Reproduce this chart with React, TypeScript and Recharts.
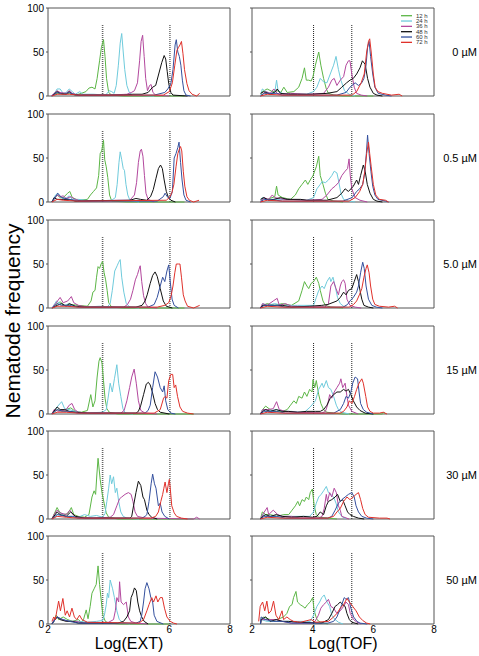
import React from 'react';
import { LineChart, Line, XAxis, YAxis, ReferenceLine, ReferenceArea } from 'recharts';

type Pt = [number, number];

const hours = ['12 h', '24 h', '36 h', '48 h', '60 h', '72 h'];
const colors = ['#5cb646', '#6fcbdc', '#b3489e', '#111111', '#34509e', '#e0312b'];
const concentrations = ['0 µM', '0.5 µM', '5.0 µM', '15 µM', '30 µM', '50 µM'];
const extCuts = [3.8, 6.02];
const tofCuts = [4.03, 5.29];
const yTicks = [0, 50, 100];
const extTicks = [2, 6, 8];
const tofTicks = [2, 4, 6, 8];

// ---------- Log(EXT) panels ----------
const ext0: Pt[][] = [
  [[2.1,0],[2.3,3],[2.5,2],[2.7,3],[2.9,1],[3.1,3],[3.25,5],[3.35,9],[3.45,10],[3.55,8],[3.62,20],[3.7,40],[3.76,55],[3.83,64],[3.88,45],[3.93,20],[4.0,4],[4.1,1],[4.5,0],[6.5,0]],
  [[2.1,0],[2.2,2],[2.3,8],[2.4,8],[2.5,3],[2.6,4],[2.7,8],[2.8,5],[2.9,2],[3.05,5],[3.15,2],[3.5,2],[3.9,1],[4.02,6],[4.1,5],[4.18,3],[4.25,12],[4.32,35],[4.38,60],[4.43,71],[4.48,50],[4.53,30],[4.6,12],[4.68,4],[4.8,1],[5.5,0]],
  [[2.1,0],[2.3,6],[2.4,4],[2.6,3],[2.7,6],[2.8,3],[3.0,1],[4.0,1],[4.6,2],[4.75,4],[4.85,6],[4.95,15],[5.02,40],[5.07,62],[5.12,69],[5.17,45],[5.22,20],[5.28,6],[5.35,12],[5.4,13],[5.46,4],[5.55,1],[6.0,0]],
  [[2.13,0],[2.3,5],[2.4,3],[2.6,2],[2.7,5],[2.8,2],[3.0,1],[4.5,1],[4.8,2],[5.1,2],[5.3,4],[5.45,10],[5.55,12],[5.65,25],[5.75,38],[5.83,46],[5.88,42],[5.93,28],[5.98,14],[6.05,4],[6.12,1],[6.6,0]],
  [[2.13,0],[2.3,4],[2.5,2],[2.7,4],[2.9,1],[5.5,1],[5.85,4],[5.95,8],[6.05,14],[6.12,30],[6.19,58],[6.23,64],[6.28,50],[6.33,45],[6.38,35],[6.43,18],[6.48,6],[6.55,1],[6.7,0]],
  [[2.13,0],[2.3,2],[2.7,2],[3.0,1],[5.8,1],[6.0,5],[6.1,15],[6.18,35],[6.25,52],[6.3,55],[6.35,58],[6.4,62],[6.45,48],[6.5,30],[6.58,14],[6.65,6],[6.75,2],[6.9,0],[7.0,3]],
];

const ext05: Pt[][] = [
  [[2.13,0],[2.3,8],[2.4,5],[2.5,5],[2.65,10],[2.72,12],[2.8,5],[3.0,2],[3.3,3],[3.4,8],[3.5,12],[3.6,16],[3.67,30],[3.72,55],[3.77,58],[3.83,70],[3.87,48],[3.92,40],[3.97,28],[4.03,8],[4.1,1],[4.6,0],[6.5,0]],
  [[2.13,0],[2.25,8],[2.32,10],[2.4,6],[2.55,3],[2.7,7],[2.8,3],[3.0,3],[3.5,1],[4.1,2],[4.22,5],[4.28,20],[4.34,45],[4.38,57],[4.43,48],[4.48,38],[4.52,36],[4.57,20],[4.63,8],[4.7,2],[5.0,0]],
  [[2.13,0],[2.3,8],[2.4,6],[2.5,7],[2.6,4],[2.75,6],[2.9,3],[3.1,1],[4.3,2],[4.7,2],[4.85,8],[4.92,22],[4.98,45],[5.04,58],[5.08,60],[5.13,52],[5.18,30],[5.23,10],[5.3,3],[5.5,0]],
  [[2.13,0],[2.2,5],[2.3,3],[2.5,3],[2.7,3],[2.9,1],[4.7,2],[4.9,4],[5.05,3],[5.25,2],[5.38,6],[5.47,14],[5.56,27],[5.64,38],[5.71,42],[5.77,38],[5.83,25],[5.9,12],[5.97,5],[6.05,2],[6.2,0]],
  [[2.13,0],[2.25,6],[2.32,10],[2.45,5],[2.7,3],[3.0,1],[5.6,1],[5.8,6],[5.86,10],[5.93,6],[6.02,4],[6.1,12],[6.16,50],[6.22,55],[6.28,62],[6.32,68],[6.37,45],[6.42,25],[6.48,8],[6.55,2],[6.7,0]],
  [[2.13,0],[2.3,3],[2.5,2],[3.0,1],[5.9,2],[6.0,5],[6.08,10],[6.15,20],[6.22,40],[6.28,55],[6.33,60],[6.37,63],[6.41,58],[6.46,35],[6.51,18],[6.58,6],[6.66,2],[6.8,0],[6.98,2]],
];

const ext5: Pt[][] = [
  [[2.13,0],[2.3,5],[2.4,7],[2.55,3],[2.75,4],[3.0,3],[3.3,2],[3.42,8],[3.48,18],[3.55,20],[3.6,35],[3.65,47],[3.7,45],[3.75,50],[3.8,53],[3.85,40],[3.9,32],[3.95,20],[4.0,6],[4.1,1],[4.5,0],[6.5,0]],
  [[2.13,0],[2.28,8],[2.4,5],[2.55,3],[2.7,5],[2.9,2],[3.2,1],[3.7,2],[3.95,1],[4.05,5],[4.12,20],[4.2,42],[4.28,48],[4.33,52],[4.38,55],[4.43,35],[4.5,18],[4.58,5],[4.7,1],[5.0,0]],
  [[2.13,0],[2.25,5],[2.4,12],[2.5,6],[2.65,8],[2.77,13],[2.85,6],[3.0,3],[3.3,1],[4.5,1],[4.62,4],[4.72,10],[4.8,20],[4.88,32],[4.95,38],[5.0,44],[5.04,48],[5.09,30],[5.15,14],[5.22,5],[5.3,1],[5.6,0]],
  [[2.13,0],[2.3,3],[2.45,5],[2.6,2],[2.7,5],[2.9,2],[3.2,1],[4.9,1],[5.1,3],[5.2,8],[5.27,15],[5.37,28],[5.45,37],[5.53,41],[5.6,36],[5.7,22],[5.8,8],[5.9,2],[6.1,0]],
  [[2.13,0],[2.3,5],[2.45,3],[2.7,3],[3.0,1],[5.3,1],[5.5,4],[5.6,12],[5.7,25],[5.78,35],[5.85,30],[5.92,42],[5.98,49],[6.03,30],[6.09,10],[6.16,3],[6.3,0]],
  [[2.13,0],[2.3,2],[2.6,2],[3.0,1],[5.6,1],[5.85,3],[5.98,6],[6.06,14],[6.12,25],[6.18,40],[6.23,50],[6.3,50],[6.35,50],[6.4,35],[6.46,15],[6.52,8],[6.6,2],[6.8,0],[7.0,3]],
];

const ext15: Pt[][] = [
  [[2.13,0],[2.3,5],[2.45,3],[2.6,5],[2.75,7],[2.9,3],[3.1,2],[3.3,4],[3.41,22],[3.48,8],[3.55,15],[3.62,42],[3.68,60],[3.72,64],[3.78,58],[3.83,38],[3.88,18],[3.94,6],[4.02,2],[4.3,0],[6.8,0]],
  [[2.13,0],[2.3,8],[2.45,14],[2.55,6],[2.7,5],[2.9,3],[3.2,1],[3.8,2],[3.92,5],[3.98,18],[4.05,35],[4.12,25],[4.19,40],[4.27,56],[4.33,35],[4.4,20],[4.47,6],[4.55,1],[4.8,0]],
  [[2.13,0],[2.2,5],[2.35,3],[2.6,5],[2.7,10],[2.79,12],[2.88,5],[3.0,2],[3.4,1],[4.4,1],[4.51,4],[4.6,15],[4.69,30],[4.76,42],[4.84,51],[4.91,35],[4.98,15],[5.06,4],[5.2,1],[5.6,0]],
  [[2.13,0],[2.3,8],[2.4,5],[2.55,5],[2.7,3],[2.9,2],[3.3,1],[4.9,1],[4.98,3],[5.06,10],[5.15,22],[5.24,34],[5.31,36],[5.37,33],[5.44,25],[5.53,12],[5.61,5],[5.7,2],[6.0,0]],
  [[2.13,0],[2.3,5],[2.5,3],[2.7,3],[3.0,1],[5.2,1],[5.3,4],[5.37,10],[5.45,30],[5.53,48],[5.61,42],[5.7,30],[5.78,25],[5.83,32],[5.88,15],[5.95,5],[6.05,1],[6.2,0]],
  [[2.13,0],[2.3,2],[2.6,2],[3.0,1],[5.5,1],[5.6,3],[5.7,5],[5.81,18],[5.86,20],[5.92,18],[5.98,38],[6.05,45],[6.11,45],[6.16,30],[6.21,33],[6.27,20],[6.35,8],[6.44,3],[6.6,1],[6.8,0]],
];

const ext30: Pt[][] = [
  [[2.13,0],[2.3,13],[2.38,8],[2.5,5],[2.65,6],[2.77,13],[2.85,5],[3.0,3],[3.2,2],[3.35,5],[3.45,25],[3.52,32],[3.57,28],[3.61,50],[3.65,69],[3.72,45],[3.78,30],[3.85,18],[3.92,7],[4.0,2],[4.3,0],[6.8,0]],
  [[2.13,0],[2.3,5],[2.45,6],[2.6,3],[2.8,3],[3.0,2],[3.2,5],[3.4,3],[3.6,4],[3.8,2],[3.88,6],[3.94,20],[4.0,35],[4.05,50],[4.1,40],[4.16,48],[4.22,30],[4.27,35],[4.33,20],[4.4,8],[4.48,3],[4.6,1],[5.0,0]],
  [[2.13,0],[2.2,5],[2.3,10],[2.4,7],[2.6,5],[2.72,10],[2.85,4],[3.0,2],[3.5,1],[4.05,2],[4.16,5],[4.27,15],[4.36,23],[4.43,25],[4.54,28],[4.65,30],[4.74,28],[4.8,20],[4.87,8],[4.95,3],[5.2,1],[6.8,0],[6.9,2],[7.0,0]],
  [[2.13,0],[2.3,8],[2.4,5],[2.6,3],[2.75,8],[2.9,3],[3.2,1],[4.7,1],[4.76,3],[4.82,15],[4.9,30],[4.98,43],[5.06,38],[5.13,25],[5.18,22],[5.26,10],[5.33,5],[5.42,2],[5.6,0]],
  [[2.13,0],[2.3,5],[2.6,3],[2.8,3],[3.0,1],[5.1,1],[5.2,3],[5.26,5],[5.33,20],[5.4,40],[5.45,51],[5.51,40],[5.56,35],[5.64,15],[5.7,18],[5.76,8],[5.85,3],[6.0,0]],
  [[2.13,0],[2.3,3],[2.6,2],[3.0,1],[5.4,1],[5.55,3],[5.64,8],[5.72,20],[5.78,28],[5.82,35],[5.86,42],[5.92,30],[5.97,40],[6.0,45],[6.03,35],[6.08,15],[6.16,7],[6.24,3],[6.4,1],[6.6,0]],
];

const ext50: Pt[][] = [
  [[2.13,0],[2.27,10],[2.35,5],[2.5,8],[2.65,5],[2.8,3],[3.0,5],[3.1,2],[3.17,5],[3.26,16],[3.32,6],[3.39,20],[3.45,35],[3.52,40],[3.59,45],[3.65,66],[3.7,45],[3.76,25],[3.81,10],[3.89,3],[4.0,1],[4.4,0],[6.0,0]],
  [[2.13,0],[2.3,8],[2.45,5],[2.6,4],[2.8,3],[3.0,3],[3.3,2],[3.6,3],[3.8,4],[3.86,10],[3.92,22],[3.96,35],[4.0,30],[4.05,50],[4.13,40],[4.19,30],[4.27,15],[4.35,5],[4.45,2],[4.7,0]],
  [[2.13,0],[2.2,5],[2.3,8],[2.45,5],[2.7,3],[2.9,3],[3.2,1],[4.0,2],[4.16,5],[4.22,15],[4.27,30],[4.33,25],[4.36,48],[4.41,25],[4.49,22],[4.58,25],[4.65,8],[4.73,3],[4.9,1],[5.3,0]],
  [[2.13,0],[2.3,8],[2.4,5],[2.6,3],[2.8,3],[3.0,1],[4.3,1],[4.49,3],[4.6,8],[4.69,15],[4.74,30],[4.8,35],[4.85,41],[4.91,38],[4.96,25],[5.02,15],[5.09,8],[5.17,3],[5.3,0]],
  [[2.13,0],[2.3,8],[2.5,5],[2.7,3],[3.0,1],[4.9,1],[5.04,3],[5.09,10],[5.15,25],[5.2,40],[5.26,47],[5.33,40],[5.39,30],[5.45,25],[5.5,10],[5.59,3],[5.8,0]],
  [[2.13,3],[2.19,8],[2.24,5],[2.35,26],[2.41,15],[2.49,29],[2.57,10],[2.63,15],[2.71,8],[2.79,18],[2.87,8],[2.95,5],[3.04,10],[3.12,5],[3.3,2],[5.0,1],[5.15,5],[5.26,15],[5.33,22],[5.42,30],[5.48,25],[5.56,32],[5.62,25],[5.7,30],[5.77,30],[5.84,18],[5.92,8],[6.03,3],[6.14,1],[6.25,0]],
];

// ---------- Log(TOF) panels ----------
const tof0: Pt[][] = [
  [[2.3,0],[2.34,5],[2.5,8],[2.67,5],[2.83,6],[2.95,4],[3.05,10],[3.16,4],[3.38,5],[3.54,10],[3.65,20],[3.73,32],[3.79,18],[3.87,18],[3.95,17],[4.01,22],[4.09,35],[4.2,50],[4.27,35],[4.36,20],[4.45,8],[4.52,3],[4.7,1],[5.0,0],[6.0,0]],
  [[2.28,0],[2.34,8],[2.45,5],[2.6,3],[2.75,4],[2.81,18],[2.86,6],[3.0,3],[3.3,2],[3.8,2],[4.03,5],[4.14,10],[4.25,20],[4.36,16],[4.47,15],[4.58,25],[4.69,35],[4.77,45],[4.85,30],[4.93,18],[5.05,6],[5.2,2],[5.4,0]],
  [[2.28,0],[2.45,5],[2.6,3],[2.72,8],[2.83,3],[3.0,2],[3.27,3],[3.8,2],[4.36,3],[4.52,10],[4.63,18],[4.71,20],[4.8,12],[4.91,18],[5.02,22],[5.1,35],[5.18,40],[5.23,40],[5.29,25],[5.37,10],[5.45,3],[5.6,1],[5.8,0]],
  [[2.28,3],[2.39,5],[2.6,2],[2.78,5],[2.83,8],[2.94,3],[3.2,2],[3.5,2],[4.0,2],[4.47,3],[4.8,5],[4.96,10],[5.12,15],[5.23,18],[5.34,20],[5.45,25],[5.56,32],[5.64,40],[5.73,36],[5.81,20],[5.89,10],[6.0,3],[6.12,1],[6.3,0]],
  [[2.28,0],[2.4,3],[2.8,3],[3.0,1],[4.8,1],[5.1,4],[5.23,10],[5.4,15],[5.51,12],[5.62,15],[5.69,20],[5.76,35],[5.81,55],[5.86,62],[5.91,45],[5.98,25],[6.05,10],[6.16,3],[6.4,1],[6.6,0]],
  [[2.28,0],[2.5,2],[3.0,1],[5.3,1],[5.45,5],[5.6,15],[5.7,25],[5.78,50],[5.84,62],[5.88,65],[5.93,50],[6.0,25],[6.06,10],[6.15,5],[6.3,3],[6.45,2],[6.6,1],[6.85,2],[6.95,0]],
];

const tof05: Pt[][] = [
  [[2.28,0],[2.35,5],[2.5,3],[2.75,6],[2.81,18],[2.86,8],[3.0,5],[3.27,3],[3.43,8],[3.54,15],[3.65,20],[3.76,25],[3.84,20],[3.92,25],[4.01,30],[4.12,40],[4.2,52],[4.25,30],[4.34,20],[4.42,10],[4.5,3],[4.7,1],[5.0,0]],
  [[2.28,0],[2.34,5],[2.5,3],[2.83,3],[3.27,3],[3.81,2],[4.03,5],[4.14,15],[4.25,20],[4.31,23],[4.42,22],[4.52,25],[4.63,30],[4.71,35],[4.8,33],[4.85,25],[4.93,10],[5.02,3],[5.2,1],[5.4,0]],
  [[2.28,0],[2.39,5],[2.55,3],[2.67,8],[2.75,5],[3.05,3],[3.27,3],[3.81,2],[4.31,3],[4.47,8],[4.63,15],[4.74,18],[4.85,22],[4.96,30],[5.07,35],[5.15,38],[5.2,49],[5.24,30],[5.29,15],[5.4,5],[5.56,2],[5.8,0]],
  [[2.28,3],[2.39,5],[2.55,2],[2.72,3],[2.94,5],[3.16,3],[3.6,3],[3.81,2],[4.47,2],[4.8,5],[4.96,10],[5.07,15],[5.18,12],[5.34,18],[5.45,25],[5.51,20],[5.58,30],[5.67,42],[5.73,35],[5.8,20],[5.89,10],[6.0,3],[6.12,1],[6.3,0]],
  [[2.28,0],[2.4,3],[2.8,2],[3.0,1],[5.0,1],[5.3,5],[5.45,12],[5.55,15],[5.65,20],[5.71,32],[5.77,55],[5.81,76],[5.86,55],[5.92,35],[5.98,18],[6.05,8],[6.15,3],[6.4,1],[6.5,0]],
  [[2.28,0],[2.5,2],[3.0,1],[5.2,1],[5.4,5],[5.55,12],[5.65,20],[5.72,35],[5.78,55],[5.84,68],[5.88,55],[5.93,40],[6.0,20],[6.08,8],[6.2,3],[6.4,2],[6.5,0]],
];

const tof5: Pt[][] = [
  [[2.28,0],[2.35,3],[2.5,5],[2.75,3],[3.0,5],[3.3,3],[3.54,8],[3.65,20],[3.73,30],[3.81,25],[3.87,22],[3.95,28],[4.03,30],[4.12,35],[4.2,28],[4.25,20],[4.34,8],[4.42,3],[4.6,1],[5.0,0]],
  [[2.28,0],[2.35,5],[2.5,3],[2.75,5],[3.0,3],[3.5,3],[4.03,3],[4.12,12],[4.2,20],[4.31,25],[4.38,22],[4.47,30],[4.56,35],[4.6,30],[4.67,35],[4.74,25],[4.82,12],[4.91,5],[5.02,2],[5.2,0]],
  [[2.28,0],[2.35,5],[2.5,3],[2.7,8],[2.83,11],[2.9,3],[3.1,5],[3.3,2],[4.4,1],[4.52,5],[4.6,25],[4.69,30],[4.77,22],[4.85,15],[4.91,25],[4.96,30],[5.02,32],[5.07,28],[5.13,10],[5.23,3],[5.4,1],[5.6,0]],
  [[2.28,0],[2.35,3],[2.5,3],[2.8,3],[3.0,3],[3.3,1],[3.9,2],[4.3,3],[4.5,4],[4.8,8],[4.91,12],[5.02,18],[5.1,15],[5.18,20],[5.29,22],[5.37,30],[5.45,38],[5.51,30],[5.56,20],[5.62,10],[5.69,3],[5.84,1],[6.0,0]],
  [[2.28,0],[2.4,3],[2.8,3],[3.1,1],[5.0,1],[5.15,4],[5.23,8],[5.34,12],[5.45,18],[5.51,25],[5.58,40],[5.65,52],[5.7,45],[5.76,25],[5.84,10],[5.95,3],[6.1,1],[6.3,0]],
  [[2.28,0],[2.5,2],[3.0,1],[5.2,1],[5.35,4],[5.45,8],[5.54,15],[5.62,22],[5.69,35],[5.76,45],[5.8,49],[5.86,40],[5.91,25],[5.98,10],[6.05,4],[6.2,2],[6.5,1],[6.7,2],[6.8,0]],
];

const tof15: Pt[][] = [
  [[2.28,0],[2.35,5],[2.45,9],[2.6,5],[2.75,3],[3.0,3],[3.16,5],[3.27,10],[3.38,15],[3.46,12],[3.54,20],[3.65,18],[3.73,25],[3.81,20],[3.9,28],[3.98,25],[4.01,39],[4.07,30],[4.12,38],[4.2,22],[4.27,12],[4.36,5],[4.47,2],[4.7,1],[5.0,0],[6.3,0],[6.35,2],[6.4,0]],
  [[2.28,0],[2.35,5],[2.5,3],[2.8,5],[3.0,3],[3.3,3],[3.6,2],[3.76,3],[3.92,8],[4.09,15],[4.2,28],[4.31,35],[4.36,30],[4.45,38],[4.52,30],[4.6,28],[4.69,20],[4.78,10],[4.85,5],[4.96,2],[5.2,0]],
  [[2.28,0],[2.35,5],[2.5,5],[2.7,6],[2.81,14],[2.9,5],[3.1,3],[3.5,2],[4.3,1],[4.42,3],[4.49,10],[4.56,22],[4.63,18],[4.71,25],[4.8,30],[4.89,35],[4.93,40],[4.99,30],[5.07,35],[5.13,20],[5.18,10],[5.29,3],[5.5,0]],
  [[2.28,0],[2.35,3],[2.45,5],[2.6,3],[2.8,5],[3.0,3],[3.2,3],[3.5,2],[3.8,3],[4.1,3],[4.25,3],[4.36,5],[4.47,10],[4.58,18],[4.69,22],[4.8,25],[4.91,25],[5.02,28],[5.1,26],[5.18,28],[5.26,22],[5.34,15],[5.45,8],[5.56,4],[5.73,1],[6.0,0]],
  [[2.28,0],[2.4,3],[2.8,3],[3.1,1],[4.7,1],[4.8,3],[4.91,5],[5.02,12],[5.1,20],[5.18,18],[5.26,25],[5.32,35],[5.4,42],[5.48,40],[5.53,25],[5.58,12],[5.67,5],[5.78,2],[6.0,0]],
  [[2.28,0],[2.5,2],[3.0,1],[4.9,1],[5.02,3],[5.13,8],[5.21,15],[5.29,12],[5.38,20],[5.45,28],[5.53,35],[5.62,40],[5.67,35],[5.75,20],[5.81,8],[5.89,3],[6.0,1],[6.2,1],[6.33,2],[6.45,0]],
];

const tof30: Pt[][] = [
  [[2.28,0],[2.34,8],[2.45,5],[2.61,5],[2.8,3],[3.05,5],[3.21,5],[3.32,10],[3.43,15],[3.51,20],[3.57,15],[3.65,22],[3.73,20],[3.79,25],[3.87,22],[3.92,30],[3.99,34],[4.05,15],[4.12,5],[4.2,2],[4.5,1],[4.8,0]],
  [[2.28,0],[2.35,5],[2.5,3],[2.7,3],[3.0,3],[3.3,3],[3.6,3],[3.9,3],[4.03,8],[4.12,18],[4.2,25],[4.28,28],[4.36,32],[4.45,37],[4.52,30],[4.6,28],[4.69,25],[4.77,18],[4.85,8],[4.96,3],[5.1,0]],
  [[2.28,0],[2.35,5],[2.5,13],[2.55,5],[2.7,10],[2.85,5],[3.0,3],[3.3,3],[3.6,1],[4.2,1],[4.31,3],[4.38,12],[4.45,28],[4.49,20],[4.56,30],[4.63,25],[4.71,35],[4.78,30],[4.85,15],[4.91,10],[4.96,3],[5.2,0]],
  [[2.28,0],[2.35,3],[2.45,5],[2.6,3],[2.8,5],[3.0,3],[3.3,2],[3.7,3],[4.0,2],[4.14,3],[4.25,8],[4.36,5],[4.45,15],[4.52,20],[4.63,22],[4.74,25],[4.82,28],[4.91,20],[4.99,22],[5.07,15],[5.15,8],[5.23,5],[5.34,3],[5.51,1],[5.7,0]],
  [[2.28,0],[2.4,3],[2.8,3],[3.1,1],[4.5,1],[4.63,3],[4.74,10],[4.85,18],[4.96,22],[5.07,25],[5.18,28],[5.29,30],[5.37,25],[5.43,15],[5.51,8],[5.62,3],[5.78,1],[6.0,0]],
  [[2.28,0],[2.5,2],[3.0,1],[4.5,1],[4.69,3],[4.8,8],[4.91,12],[5.02,20],[5.13,25],[5.23,22],[5.34,25],[5.43,28],[5.51,30],[5.58,22],[5.65,12],[5.73,5],[5.84,2],[6.2,1],[6.45,1],[6.55,0]],
];

const tof50: Pt[][] = [
  [[2.28,0],[2.3,5],[2.38,8],[2.6,5],[2.82,5],[3.04,8],[3.15,12],[3.24,20],[3.32,22],[3.37,30],[3.45,37],[3.5,25],[3.59,22],[3.68,20],[3.75,18],[3.83,22],[3.92,25],[4.0,30],[4.05,15],[4.14,5],[4.25,2],[4.5,0]],
  [[2.28,0],[2.3,5],[2.5,3],[2.8,3],[3.0,3],[3.5,3],[3.8,3],[3.92,3],[4.03,10],[4.14,20],[4.23,25],[4.3,30],[4.38,33],[4.47,25],[4.56,20],[4.63,10],[4.74,5],[4.85,2],[5.0,0]],
  [[2.28,0],[2.3,5],[2.5,5],[2.8,5],[3.0,3],[3.3,1],[4.0,1],[4.08,3],[4.19,10],[4.27,18],[4.36,22],[4.45,25],[4.52,28],[4.6,20],[4.69,18],[4.8,12],[4.91,15],[5.02,20],[5.1,25],[5.18,22],[5.24,12],[5.35,5],[5.46,2],[5.6,0]],
  [[2.28,0],[2.3,5],[2.45,8],[2.6,3],[2.8,5],[3.0,3],[3.2,3],[3.5,2],[4.3,1],[4.4,3],[4.52,5],[4.63,12],[4.74,20],[4.82,22],[4.91,25],[4.99,22],[5.07,20],[5.13,12],[5.21,5],[5.29,2],[5.5,0]],
  [[2.28,0],[2.3,8],[2.45,5],[2.7,3],[3.0,3],[3.3,1],[4.5,1],[4.69,3],[4.8,8],[4.88,15],[4.96,22],[5.04,30],[5.1,28],[5.18,30],[5.26,18],[5.35,8],[5.46,3],[5.56,1],[5.8,0]],
  [[2.22,3],[2.27,20],[2.35,25],[2.42,15],[2.49,26],[2.55,12],[2.63,15],[2.71,26],[2.79,10],[2.88,5],[2.99,15],[3.04,5],[3.15,8],[3.26,5],[3.37,3],[3.6,2],[3.95,5],[4.1,2],[4.52,3],[4.69,8],[4.8,12],[4.91,18],[5.02,22],[5.13,29],[5.21,25],[5.32,20],[5.43,15],[5.54,8],[5.65,4],[5.78,1],[5.9,0]],
];

const extPanels = [ext0, ext05, ext5, ext15, ext30, ext50];
const tofPanels = [tof0, tof05, tof5, tof15, tof30, tof50];

const FONT = '"Liberation Sans", Arial, Helvetica, sans-serif';
const rowTops = [8, 114, 220, 326, 431, 536];
const PLOT_H = 88;
const PLOT_W = 182;
const LEFT_X = 48;
const RIGHT_X = 252;
const TOP_M = 8;
const BOTTOM_M = 9;

function Panel({ series, left, top, isLeft, isBottom, cuts }: {
  series: Pt[][]; left: number; top: number; isLeft: boolean; isBottom: boolean; cuts: number[];
}) {
  const yW = isLeft ? 40 : 10;
  const xH = isBottom ? 20 : 0;
  const w = yW + PLOT_W + 4;
  const h = TOP_M + PLOT_H + xH + BOTTOM_M;
  return (
    <div style={{ position: 'absolute', left: left - yW, top: top - TOP_M }}>
      <LineChart width={w} height={h} margin={{ top: TOP_M, right: 4, bottom: BOTTOM_M, left: 0 }}>
        <XAxis
          dataKey="x"
          type="number"
          domain={[2, 8]}
          allowDataOverflow
          hide={!isBottom}
          height={xH}
          ticks={isLeft ? extTicks : tofTicks}
          tickLine={false}
          axisLine={false}
          tickSize={2}
          tickMargin={0}
          interval={0}
          tick={{ fontSize: 10, fill: '#000', fontFamily: FONT }}
        />
        <YAxis
          type="number"
          domain={[0, 100]}
          ticks={yTicks}
          width={yW}
          axisLine={false}
          tickLine={{ stroke: '#555' }}
          tickSize={2}
          tickMargin={2}
          interval={0}
          tickFormatter={(v: number) => (isLeft ? String(v) : '')}
          tick={{ fontSize: 10, fill: '#000', fontFamily: FONT }}
        />
        <ReferenceArea x1={2} x2={8} y1={0} y2={100} fill="none" stroke="#555" strokeWidth={1} />
        {cuts.map((c, i) => (
          <ReferenceLine
            key={'cut' + i}
            segment={[{ x: c, y: 0 }, { x: c, y: 81 }]}
            stroke={isLeft && i === 0 ? '#666' : '#222'}
            strokeWidth={isLeft && i === 0 ? 1.6 : 1}
            strokeDasharray="1 1"
          />
        ))}
        {series.map((pts, i) => (
          <Line
            key={hours[i]}
            name={hours[i]}
            data={pts.map(([x, y]) => ({ x, y }))}
            dataKey="y"
            type="linear"
            stroke={colors[i]}
            strokeWidth={1}
            dot={false}
            activeDot={false}
            isAnimationActive={false}
          />
        ))}
      </LineChart>
    </div>
  );
}

export default function App() {
  return (
    <div style={{ position: 'absolute', left: 0, top: 0, width: 479, height: 656, background: '#fff', fontFamily: FONT, overflow: 'hidden' }}>
      {rowTops.map((t, r) => (
        <React.Fragment key={r}>
          <Panel series={extPanels[r]} left={LEFT_X} top={t} isLeft isBottom={r === 5} cuts={extCuts} />
          <Panel series={tofPanels[r]} left={RIGHT_X} top={t} isLeft={false} isBottom={r === 5} cuts={tofCuts} />
        </React.Fragment>
      ))}
      <svg width={479} height={656} style={{ position: 'absolute', left: 0, top: 0, pointerEvents: 'none' }}>
        {concentrations.map((c, r) => (
          <text key={c} x={477} y={rowTops[r] + PLOT_H / 2 + 4} textAnchor="end" fontSize={11} fontFamily={FONT} fill="#000">{c}</text>
        ))}
        <text x={129} y={648.5} textAnchor="middle" fontSize={16} fontFamily={FONT} fill="#000">Log(EXT)</text>
        <text x={343} y={648.5} textAnchor="middle" fontSize={16} fontFamily={FONT} fill="#000">Log(TOF)</text>
        <text x={0} y={0} transform="translate(20,321) rotate(-90)" textAnchor="middle" fontSize={21} fontFamily={FONT} fill="#000">Nematode frequency</text>
        {hours.map((h, i) => (
          <g key={h}>
            <line x1={401} x2={412} y1={15.7 + i * 5.33} y2={15.7 + i * 5.33} stroke={colors[i]} strokeWidth={1.3} />
            <text x={416} y={15.7 + i * 5.33 + 2} fontSize={6} fontFamily={FONT} fill="#333">{h}</text>
          </g>
        ))}
      </svg>
    </div>
  );
}
